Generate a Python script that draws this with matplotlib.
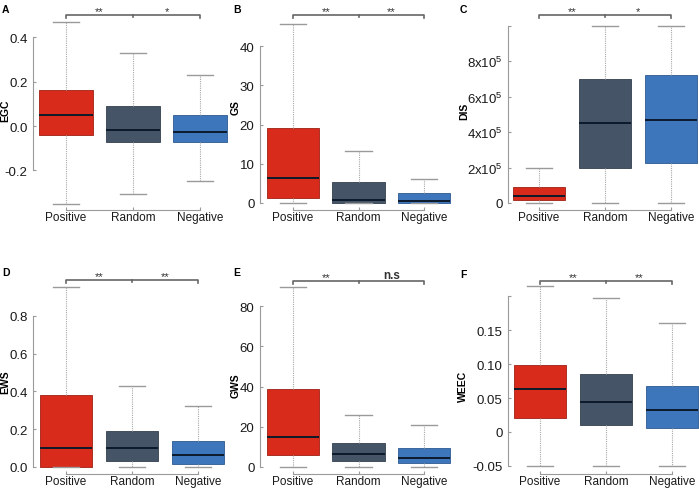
import matplotlib
matplotlib.use("Agg")
import matplotlib.pyplot as plt
import matplotlib.transforms as mtransforms

plt.rcParams['font.family'] = ['Liberation Sans', 'DejaVu Sans']
plt.rcParams['mathtext.fontset'] = 'custom'
plt.rcParams['mathtext.rm'] = 'Liberation Sans'

# ---- dane ----
kategorie = ["Positive", "Random", "Negative"]
kolory = ["#d92b1c", "#465468", "#3e76bc"]
krawedzie = ["#9e1f14", "#343f4e", "#2d5a91"]

# kolejnosc: dolny wąs, Q1, mediana, Q3, górny wąs
egc = [[-0.35, -0.04, 0.05, 0.162, 0.47],
       [-0.307, -0.072, -0.018, 0.09, 0.33],
       [-0.248, -0.072, -0.027, 0.05, 0.23]]
gs = [[0, 1.3, 6.4, 19.1, 45.7],
      [0, 0.1, 0.8, 5.4, 13.3],
      [0, 0.1, 0.4, 2.5, 6.1]]
dis = [[0, 1.7e4, 4.0e4, 9.0e4, 1.96e5],
       [0, 2.0e5, 4.5e5, 7.0e5, 1.0e6],
       [0, 2.25e5, 4.65e5, 7.2e5, 1.0e6]]
ews = [[0, 0.0, 0.1, 0.38, 0.952],
       [0, 0.03, 0.098, 0.19, 0.43],
       [0, 0.015, 0.063, 0.14, 0.325]]
gws = [[0, 6.0, 14.9, 38.8, 89.5],
       [0, 3.0, 6.3, 12.0, 25.9],
       [0, 1.8, 4.6, 9.5, 20.9]]
weec = [[-0.05, 0.021, 0.063, 0.0985, 0.215],
        [-0.05, 0.011, 0.044, 0.085, 0.197],
        [-0.05, 0.006, 0.032, 0.068, 0.161]]

egc_ticks = [-0.2, 0.0, 0.2, 0.4]
egc_labels = ["-0.2", "0.0", "0.2", "0.4"]
gs_ticks = [0, 10, 20, 30, 40]
gs_labels = ["0", "10", "20", "30", "40"]
dis_ticks = [0, 2e5, 4e5, 6e5, 8e5, 1e6]
dis_labels = ["0", "2x10$^5$", "4x10$^5$", "6x10$^5$", "8x10$^5$", ""]
ews_ticks = [0.0, 0.2, 0.4, 0.6, 0.8]
ews_labels = ["0.0", "0.2", "0.4", "0.6", "0.8"]
gws_ticks = [0, 20, 40, 60, 80]
gws_labels = ["0", "20", "40", "60", "80"]
weec_ticks = [-0.05, 0.0, 0.05, 0.10, 0.15, 0.20]
weec_labels = ["-0.05", "0", "0.05", "0.10", "0.15", ""]

# ---- panele: (litera, nazwa, dane, ticki, etykiety, gwiazdki) ----
panele = [
    ("A", "EGC", egc, egc_ticks, egc_labels, ("**", "*")),
    ("B", "GS", gs, gs_ticks, gs_labels, ("**", "**")),
    ("C", "DIS", dis, dis_ticks, dis_labels, ("**", "*")),
    ("D", "EWS", ews, ews_ticks, ews_labels, ("**", "**")),
    ("E", "GWS", gws, gws_ticks, gws_labels, ("**", "n.s")),
    ("F", "WEEC", weec, weec_ticks, weec_labels, ("**", "**")),
]

# geometria w pikselach: os y, srodek 1. pudelka, odstep, y(0), px/jednostke,
# os x (dol), klamra (gora), litera (x, y), etykieta osi (x, y)
geometria = [
    (33, 66, 67, 127, 221.5, 211, 16, (2, 5), (5, 111)),
    (260, 293, 65.5, 204, 3.92, 211, 16, (233, 5), (236, 108)),
    (508, 539, 66, 204, 35.5 / 2e5, 211, 16, (460, 5), (464, 111)),
    (33, 66, 66, 468, 189.0, 475, 281, (2, 268), (5, 382)),
    (260, 293, 65.5, 468, 2.01, 475, 282, (233, 268), (235.5, 386)),
    (508, 540, 66, 433, 680.0, 475, 282, (460, 270), (463, 386)),
]

W, H = 699, 489
fig = plt.figure(figsize=(W / 100, H / 100), dpi=100)
szary = "#9a9a9a"

for (litera, nazwa, dane, ticki, etykiety, gwiazdki), g in zip(panele, geometria):
    os_y, c1, sp, y0, ppu, dol, gora, lit_xy, lab_xy = g
    ax = fig.add_axes([os_y / W, 1 - dol / H, (c1 - os_y + 2.55 * sp) / W, (dol - gora) / H])
    ax.set_xlim(1 - (c1 - os_y) / sp, 3.55)
    ax.set_ylim((y0 - dol) / ppu, (y0 - gora) / ppu)

    staty = []
    for k, d in zip(kategorie, dane):
        staty.append(dict(label=k, whislo=d[0], q1=d[1], med=d[2], q3=d[3], whishi=d[4]))
    bp = ax.bxp(staty, positions=[1, 2, 3], widths=0.8, patch_artist=True,
                showfliers=False, capwidths=0.4,
                boxprops=dict(linewidth=0.6),
                whiskerprops=dict(color="#a8a8a8", linewidth=0.8, linestyle=(0, (1, 1))),
                capprops=dict(color=szary, linewidth=1.0),
                medianprops=dict(color="#0c1a2c", linewidth=1.4))
    for box, kol, kr in zip(bp["boxes"], kolory, krawedzie):
        box.set_facecolor(kol)
        box.set_edgecolor(kr)
    for el in bp["whiskers"] + bp["caps"]:
        el.set_clip_on(False)

    for s in ["top", "right"]:
        ax.spines[s].set_visible(False)
    ax.spines["left"].set_color(szary)
    ax.spines["bottom"].set_color(szary)
    ax.spines["left"].set_bounds(ticki[0], ticki[-1])
    ax.spines["bottom"].set_bounds(1, 3)
    ax.set_yticks(ticki)
    ax.set_yticklabels(etykiety)
    ax.set_xticks([1, 2, 3])
    ax.set_xticklabels(kategorie)
    ax.tick_params(axis="both", direction="in", length=2, color=szary, width=0.8)
    ax.tick_params(axis="y", labelsize=9.5, pad=4, labelcolor="#1a1a1a")
    ax.tick_params(axis="x", labelsize=8.5, pad=0.5, labelcolor="#1a1a1a")

    # klamra z istotnoscia
    tr = mtransforms.blended_transform_factory(ax.transData, ax.transAxes)
    dy = 3.0 / (dol - gora)
    ax.plot([1, 1, 3, 3], [1 - dy, 1, 1, 1 - dy], color="#666666", lw=1.2,
            transform=tr, clip_on=False)
    ax.plot([2, 2], [1, 1 - dy * 0.7], color="#666666", lw=1.2,
            transform=tr, clip_on=False)
    for xs, g_txt in zip([1.5, 2.5], gwiazdki):
        if g_txt == "n.s":
            ax.text(xs, 1, g_txt, transform=tr, ha="center", va="bottom",
                    fontsize=8.5, fontweight="bold", color="#333333")
        else:
            ax.text(xs, 1 - 0.5 * dy, g_txt, transform=tr, ha="center", va="bottom",
                    fontsize=8, color="#333333")

    fig.text(lit_xy[0] / W, 1 - lit_xy[1] / H, litera, fontsize=7.5,
             fontweight="bold", ha="left", va="top")
    fig.text(lab_xy[0] / W, 1 - lab_xy[1] / H, nazwa, fontsize=7.5,
             fontweight="bold", rotation=90, ha="center", va="center")

fig.savefig("out.png", dpi=100)
